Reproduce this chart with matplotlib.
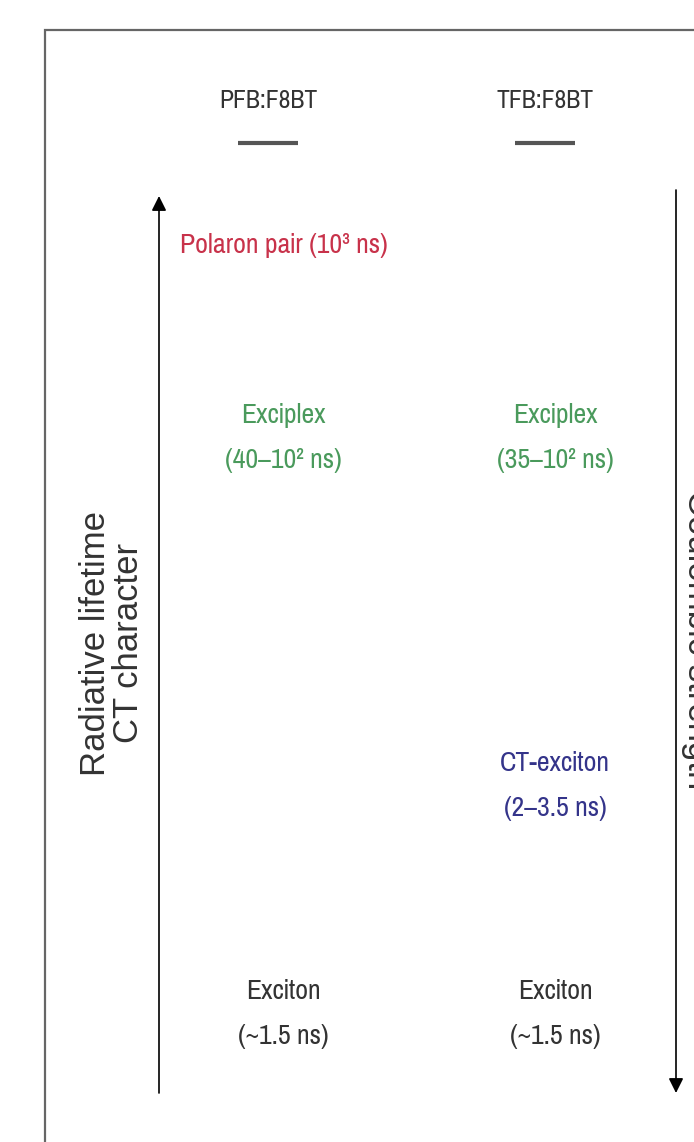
import matplotlib
matplotlib.use("Agg")
from matplotlib import pyplot as plt
from matplotlib import font_manager
from matplotlib.textpath import TextPath

# columns (blends) and their states, ordered by CT character / radiative lifetime
columns = ['PFB:F8BT', 'TFB:F8BT']
state_labels = ['Polaron pair (10³ ns)',
                'Exciplex\n(40–10² ns)', 'Exciplex\n(35–10² ns)',
                'CT-exciton\n(2–3.5 ns)',
                'Exciton\n(~1.5 ns)', 'Exciton\n(~1.5 ns)']
state_column = [0, 0, 1, 1, 0, 1]
state_level = [3, 2, 2, 1, 0, 0]
state_colors = ['#c8324a', '#4a9a5c', '#4a9a5c', '#34348a', '#333333', '#333333']

left_axis_label = 'Radiative lifetime\nCT character'
right_axis_label = 'Coulombic strength'

# layout in pixels
W, H = 694, 1142
header_x = [268, 545]
state_x = [283, 555]
level_y = {3: 245, 2: 438, 1: 786, 0: 1014}

# the labels in the figure are set in a narrow sans, pick the narrowest regular,
# proportional condensed one installed
skip = ('bold', 'italic', 'oblique', 'light', 'thin', 'black', 'medium', 'semibold',
        'heavy', 'mono', 'cjk', 'serif')
cands = []
for f in font_manager.fontManager.ttflist:
    tag = (f.name + ' ' + f.fname).lower()
    if any(s in tag for s in skip):
        continue
    if 'condensed' in tag or 'narrow' in tag or 'condensed' in str(f.stretch):
        cands.append(f)
first = cands[0] if cands else None
best, best_w = None, 1e9
for f in cands[:30]:
    if f.weight not in (400, 'normal', 'regular'):
        continue
    try:
        fp = font_manager.FontProperties(fname=f.fname)
        w = TextPath((0, 0), 'Polaron pair', size=10, prop=fp).get_extents().width
        wi = TextPath((0, 0), 'iiii', size=10, prop=fp).get_extents().width
        wm = TextPath((0, 0), 'mmmm', size=10, prop=fp).get_extents().width
    except Exception:
        continue
    if wm < 1.6 * wi:   # monospaced
        continue
    if 20 < w < best_w:
        best, best_w = f, w
if best is None:
    best = first

if best is not None:
    narrow_fp = font_manager.FontProperties(fname=best.fname)
    narrow = dict(fontproperties=narrow_fp)
else:
    narrow_fp = font_manager.FontProperties(family=['Liberation Sans', 'DejaVu Sans'])
    narrow = dict(family=['Liberation Sans', 'DejaVu Sans'])


def size_for(text, width_px, lo, hi):
    w10 = TextPath((0, 0), text, size=10, prop=narrow_fp).get_extents().width
    s = width_px / (w10 / 10 * 100 / 72)
    return max(lo, min(hi, s))


s_state = size_for(state_labels[0], 205, 16, 26)
s_head = size_for(columns[0], 96, 15, 26)
plain = ['Liberation Sans', 'DejaVu Sans']

fig = plt.figure(figsize=(W / 100, H / 100), dpi=100)
ax = fig.add_axes([0, 0, 1, 1])
ax.set_xlim(0, W)
ax.set_ylim(H, 0)
ax.axis('off')

# frame (top and left edge only, rest is cropped)
ax.plot([45, 45, W + 5], [H + 5, 30, 30], color='#666666', lw=1.6,
        solid_joinstyle='miter')

# column headers with underline
for i, name in enumerate(columns):
    t = ax.text(header_x[i], 101, name, ha='center', va='center',
                color='#333333', **narrow)
    t.set_fontsize(s_head)
    ax.plot([header_x[i] - 30, header_x[i] + 30], [143, 143],
            color='#555555', lw=3, solid_capstyle='butt')

# states
for lab, c, lvl, col in zip(state_labels, state_column, state_level, state_colors):
    x = state_x[c] if '\n' in lab else state_x[c] + 1
    t = ax.text(x, level_y[lvl], lab, ha='center', va='center',
                color=col, linespacing=2.0, **narrow)
    t.set_fontsize(s_state)

# arrows
ax.annotate('', xy=(159, 196), xytext=(159, 1093),
            arrowprops=dict(arrowstyle='-|>', color='black', lw=1.2,
                            mutation_scale=22, shrinkA=0, shrinkB=0))
ax.annotate('', xy=(676, 1093), xytext=(676, 190),
            arrowprops=dict(arrowstyle='-|>', color='black', lw=1.2,
                            mutation_scale=22, shrinkA=0, shrinkB=0))

# side labels
ax.text(112, 643, left_axis_label, rotation=90, ha='center', va='center',
        fontsize=25, color='#333333', family=plain, linespacing=1.0)
ax.text(698, 640, right_axis_label, rotation=270, ha='center', va='center',
        fontsize=25, color='#333333', family=plain)

fig.savefig('out.png', dpi=100, facecolor='white')
